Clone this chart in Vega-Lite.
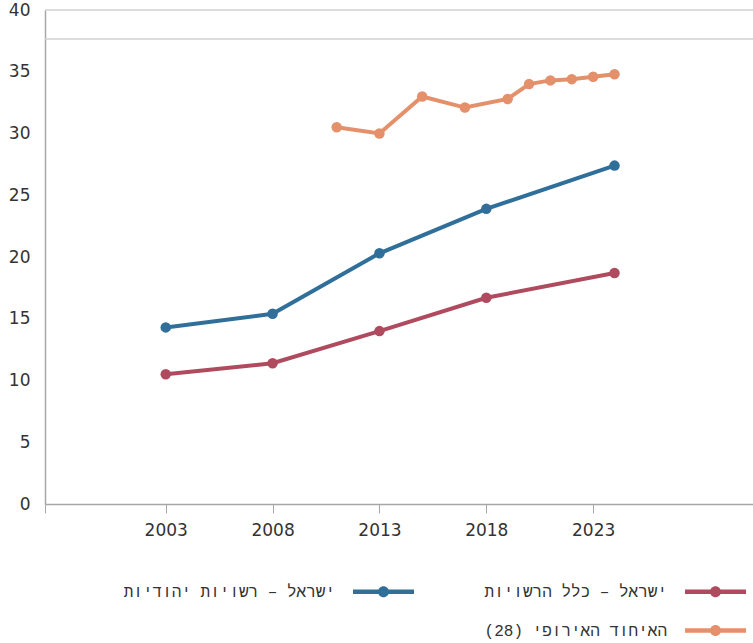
{
  "$schema": "https://vega.github.io/schema/vega-lite/v6.json",
  "width": 708,
  "height": 494,
  "autosize": "none",
  "padding": {"left": 45, "top": 10, "right": 0, "bottom": 139},
  "config": {
    "view": {"stroke": null},
    "font": "DejaVu Sans",
    "axisX": {
      "domainColor": "#a6a6a6",
      "domainWidth": 1.5,
      "tickColor": "#a6a6a6",
      "tickWidth": 1,
      "tickSize": 9,
      "labelFontSize": 17,
      "labelColor": "#333333",
      "labelPadding": 9,
      "grid": false,
      "labelFlush": false
    },
    "axisY": {
      "domainColor": "#a6a6a6",
      "domainWidth": 1.5,
      "ticks": false,
      "tickSize": 0,
      "labelFontSize": 17,
      "labelColor": "#333333",
      "labelPadding": 15,
      "grid": false
    }
  },
  "datasets": {
    "series": [
      {"year": 2003, "value": 14.3, "series": "ישראל – רשויות יהודיות"},
      {"year": 2008, "value": 15.4, "series": "ישראל – רשויות יהודיות"},
      {"year": 2013, "value": 20.3, "series": "ישראל – רשויות יהודיות"},
      {"year": 2018, "value": 23.9, "series": "ישראל – רשויות יהודיות"},
      {"year": 2024, "value": 27.4, "series": "ישראל – רשויות יהודיות"},
      {"year": 2003, "value": 10.5, "series": "ישראל – כלל הרשויות"},
      {"year": 2008, "value": 11.4, "series": "ישראל – כלל הרשויות"},
      {"year": 2013, "value": 14.0, "series": "ישראל – כלל הרשויות"},
      {"year": 2018, "value": 16.7, "series": "ישראל – כלל הרשויות"},
      {"year": 2024, "value": 18.7, "series": "ישראל – כלל הרשויות"},
      {"year": 2011, "value": 30.5, "series": "האיחוד האירופי (28)\u200f"},
      {"year": 2013, "value": 30.0, "series": "האיחוד האירופי (28)\u200f"},
      {"year": 2015, "value": 33.0, "series": "האיחוד האירופי (28)\u200f"},
      {"year": 2017, "value": 32.1, "series": "האיחוד האירופי (28)\u200f"},
      {"year": 2019, "value": 32.8, "series": "האיחוד האירופי (28)\u200f"},
      {"year": 2020, "value": 34.0, "series": "האיחוד האירופי (28)\u200f"},
      {"year": 2021, "value": 34.3, "series": "האיחוד האירופי (28)\u200f"},
      {"year": 2022, "value": 34.4, "series": "האיחוד האירופי (28)\u200f"},
      {"year": 2023, "value": 34.6, "series": "האיחוד האירופי (28)\u200f"},
      {"year": 2024, "value": 34.8, "series": "האיחוד האירופי (28)\u200f"}
    ],
    "refs": [
      {"value": 40},
      {"value": 37.65}
    ]
  },
  "layer": [
    {
      "data": {"name": "refs"},
      "mark": {"type": "rule", "color": "#d0d0d0", "strokeWidth": 1.5},
      "encoding": {
        "y": {"field": "value", "type": "quantitative", "title": null, "scale": {"domain": [0, 40]}, "axis": {"values": [0, 5, 10, 15, 20, 25, 30, 35, 40]}}
      }
    },
    {
      "data": {"name": "series"},
      "mark": {"type": "line", "strokeWidth": 4},
      "encoding": {
        "x": {"field": "year", "type": "quantitative", "title": null, "scale": {"domain": [1997.35, 2030.48], "nice": false, "zero": false}, "axis": {"values": [1997.35, 2003, 2008, 2013, 2018, 2023], "format": "d", "labelExpr": "datum.value < 2000 ? '' : datum.label"}},
        "y": {"field": "value", "type": "quantitative", "title": null, "scale": {"domain": [0, 40]}, "axis": {"values": [0, 5, 10, 15, 20, 25, 30, 35, 40]}},
        "color": {
          "field": "series",
          "type": "nominal",
          "title": null,
          "sort": null,
          "scale": {
            "domain": ["ישראל – רשויות יהודיות", "ישראל – כלל הרשויות", " ", "האיחוד האירופי (28)\u200f"],
            "range": ["#2f6f9a", "#b04a5f", "rgba(0,0,0,0)", "#e3906b"]
          },
          "legend": {
            "orient": "none",
            "legendX": 308,
            "legendY": 551,
            "columns": 2,
            "direction": "horizontal",
            "symbolType": "M-1,-0.07H1V0.07H-1Z M0.18,0A0.18,0.18 0 1,1 -0.18,0A0.18,0.18 0 1,1 0.18,0Z",
            "symbolSize": 3721,
            "symbolStrokeWidth": 0,
            "labelAlign": "right",
            "labelOffset": -79,
            "labelFont": "Liberation Mono",
            "labelFontSize": 16,
            "labelColor": "#333333",
            "labelLimit": 0,
            "columnPadding": 70,
            "rowPadding": -18,
            "encode": {
              "symbols": {"update": {"fill": {"scale": "color", "field": "value"}, "stroke": {"value": "transparent"}, "strokeWidth": {"value": 0}, "opacity": {"value": 1}}}
            }
          }
        }
      }
    },
    {
      "data": {"name": "series"},
      "mark": {"type": "point", "filled": true, "size": 110, "opacity": 1},
      "encoding": {
        "x": {"field": "year", "type": "quantitative", "title": null},
        "y": {"field": "value", "type": "quantitative", "title": null},
        "color": {"field": "series", "type": "nominal", "title": null, "sort": null}
      }
    }
  ]
}
